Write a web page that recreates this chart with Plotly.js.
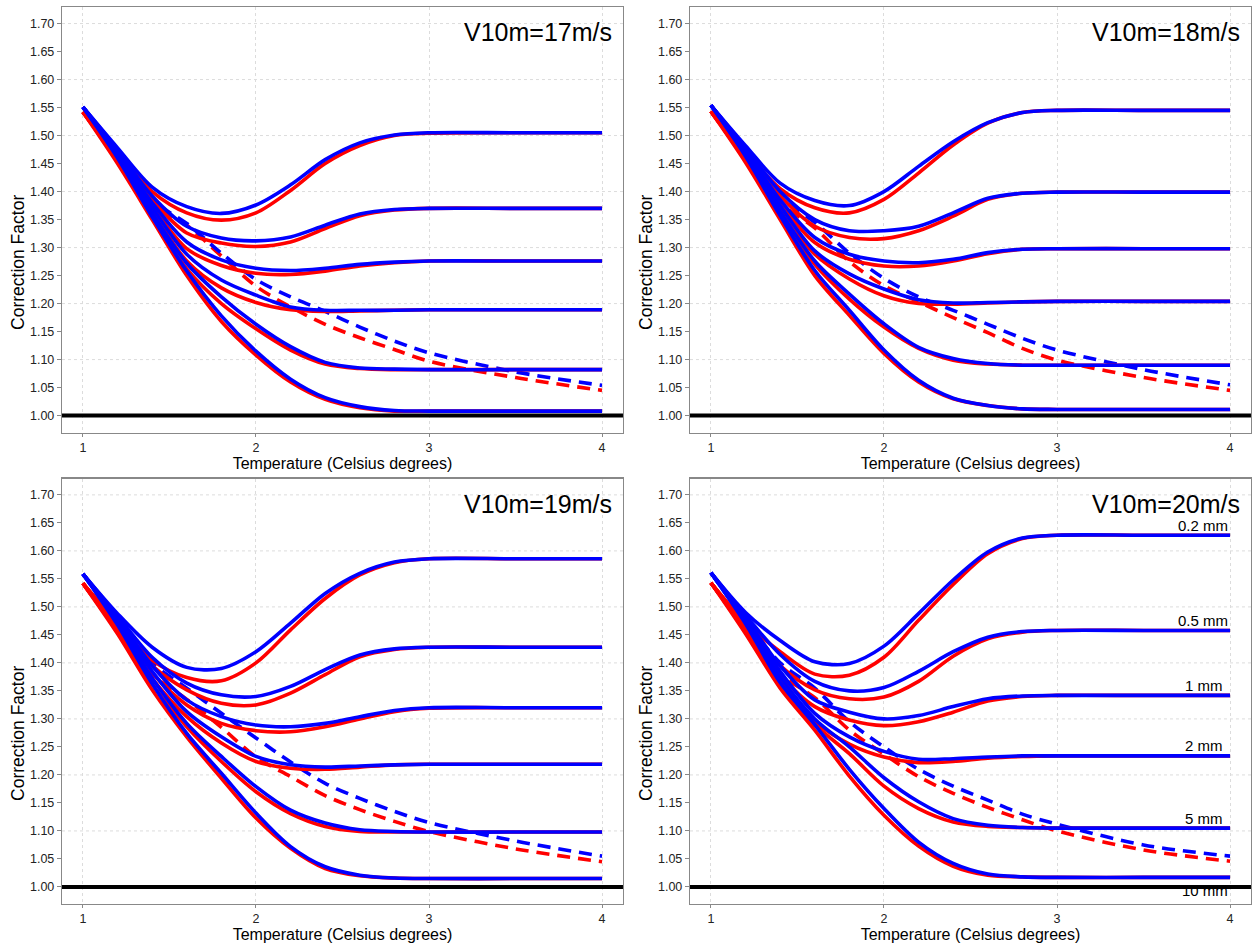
<!DOCTYPE html>
<html>
<head>
<meta charset="utf-8">
<script src="https://cdn.plot.ly/plotly-3.0.1.min.js"></script>
<style>
  html, body { margin: 0; padding: 0; background: #ffffff; }
  #chart { width: 1255px; height: 948px; }
</style>
</head>
<body>
<div id="chart"></div>
<script>
// ---------------- DATA ----------------
const temps = [1.0, 1.2, 1.4, 1.6, 1.8, 2.0, 2.2, 2.4, 2.6, 2.8, 3.0, 3.5, 4.0];
const speedTitles = ["V10m=17m/s", "V10m=18m/s", "V10m=19m/s", "V10m=20m/s"];
const sizeLabels = ["0.2 mm", "0.5 mm", "1 mm", "2 mm", "5 mm", "10 mm"];
const yTickVals = [1.00, 1.05, 1.10, 1.15, 1.20, 1.25, 1.30, 1.35, 1.40, 1.45, 1.50, 1.55, 1.60, 1.65, 1.70];
const xTickVals = [1, 2, 3, 4];
const baselineValue = 1.0;
const xTitle = "Temperature (Celsius degrees)";
const yTitle = "Correction Factor";

// V10m = 17 m/s
const v17Blue02 = [1.551,1.478,1.408,1.373,1.361,1.376,1.412,1.457,1.487,1.501,1.505,1.505,1.505];
const v17Blue05 = [1.551,1.474,1.392,1.338,1.317,1.312,1.319,1.340,1.360,1.368,1.370,1.370,1.370];
const v17Blue1  = [1.551,1.470,1.380,1.310,1.278,1.263,1.259,1.263,1.270,1.274,1.276,1.276,1.276];
const v17Blue2  = [1.551,1.467,1.372,1.288,1.242,1.215,1.194,1.188,1.188,1.188,1.189,1.189,1.189];
const v17Blue5  = [1.551,1.463,1.362,1.272,1.212,1.163,1.123,1.095,1.085,1.083,1.082,1.082,1.082];
const v17Blue10 = [1.551,1.460,1.355,1.258,1.178,1.115,1.065,1.032,1.016,1.009,1.008,1.008,1.008];
const v17Red02  = [1.542,1.470,1.400,1.362,1.349,1.362,1.402,1.450,1.482,1.500,1.504,1.505,1.505];
const v17Red05  = [1.542,1.466,1.385,1.326,1.308,1.302,1.310,1.334,1.357,1.367,1.370,1.370,1.370];
const v17Red1   = [1.542,1.462,1.374,1.298,1.268,1.254,1.252,1.258,1.267,1.273,1.276,1.276,1.276];
const v17Red2   = [1.542,1.458,1.365,1.276,1.228,1.202,1.189,1.186,1.187,1.188,1.189,1.189,1.189];
const v17Red5   = [1.542,1.454,1.356,1.262,1.200,1.155,1.117,1.092,1.084,1.082,1.082,1.082,1.082];
const v17Red10  = [1.542,1.450,1.350,1.250,1.168,1.108,1.060,1.029,1.014,1.008,1.008,1.008,1.008];
const v17BlueDash = [1.551,1.466,1.385,1.343,1.290,1.243,1.212,1.186,1.158,1.133,1.112,1.078,1.054];
const v17RedDash  = [1.542,1.458,1.378,1.340,1.285,1.231,1.194,1.163,1.139,1.118,1.097,1.068,1.045];

// V10m = 18 m/s
const v18Blue02 = [1.554,1.482,1.415,1.384,1.375,1.400,1.445,1.489,1.523,1.541,1.545,1.545,1.545];
const v18Blue05 = [1.554,1.478,1.400,1.350,1.330,1.330,1.338,1.362,1.388,1.397,1.399,1.399,1.399];
const v18Blue1  = [1.554,1.474,1.385,1.318,1.288,1.276,1.273,1.279,1.291,1.297,1.298,1.298,1.298];
const v18Blue2  = [1.554,1.470,1.375,1.294,1.253,1.226,1.207,1.201,1.202,1.203,1.204,1.204,1.204];
const v18Blue5  = [1.554,1.466,1.365,1.276,1.217,1.164,1.122,1.102,1.093,1.090,1.090,1.090,1.090];
const v18Blue10 = [1.554,1.463,1.357,1.259,1.188,1.117,1.063,1.031,1.018,1.012,1.011,1.011,1.011];
const v18Red02  = [1.543,1.472,1.405,1.371,1.362,1.386,1.433,1.483,1.522,1.541,1.545,1.545,1.545];
const v18Red05  = [1.543,1.468,1.392,1.338,1.318,1.316,1.330,1.356,1.386,1.397,1.399,1.399,1.399];
const v18Red1   = [1.543,1.464,1.378,1.309,1.279,1.267,1.267,1.276,1.289,1.297,1.298,1.298,1.298];
const v18Red2   = [1.543,1.460,1.368,1.288,1.244,1.214,1.200,1.199,1.201,1.203,1.204,1.204,1.204];
const v18Red5   = [1.543,1.456,1.358,1.270,1.208,1.158,1.120,1.099,1.092,1.090,1.090,1.090,1.090];
const v18Red10  = [1.543,1.452,1.350,1.250,1.179,1.111,1.060,1.030,1.018,1.012,1.011,1.011,1.011];
const v18BlueDash = [1.554,1.469,1.390,1.345,1.290,1.245,1.212,1.188,1.163,1.138,1.117,1.082,1.055];
const v18RedDash  = [1.543,1.458,1.380,1.335,1.275,1.232,1.203,1.175,1.148,1.120,1.099,1.068,1.045];

// V10m = 19 m/s
const v19Blue02 = [1.559,1.488,1.428,1.392,1.390,1.420,1.471,1.524,1.560,1.580,1.586,1.586,1.586];
const v19Blue05 = [1.559,1.484,1.410,1.364,1.343,1.340,1.358,1.388,1.414,1.425,1.428,1.428,1.428];
const v19Blue1  = [1.559,1.480,1.395,1.334,1.304,1.289,1.286,1.292,1.304,1.315,1.320,1.320,1.320];
const v19Blue2  = [1.559,1.476,1.385,1.313,1.268,1.233,1.218,1.214,1.216,1.218,1.219,1.219,1.219];
const v19Blue5  = [1.559,1.472,1.373,1.292,1.233,1.179,1.137,1.114,1.102,1.099,1.098,1.098,1.098];
const v19Blue10 = [1.559,1.468,1.363,1.274,1.203,1.132,1.072,1.036,1.021,1.016,1.015,1.015,1.015];
const v19Red02  = [1.542,1.472,1.405,1.374,1.368,1.400,1.459,1.515,1.557,1.579,1.586,1.586,1.586];
const v19Red05  = [1.542,1.468,1.395,1.352,1.328,1.325,1.346,1.379,1.411,1.424,1.428,1.428,1.428];
const v19Red1   = [1.542,1.464,1.382,1.325,1.292,1.279,1.277,1.286,1.300,1.313,1.319,1.320,1.320];
const v19Red2   = [1.542,1.460,1.372,1.304,1.257,1.224,1.212,1.210,1.214,1.218,1.219,1.219,1.219];
const v19Red5   = [1.542,1.456,1.362,1.286,1.224,1.170,1.131,1.108,1.099,1.098,1.098,1.098,1.098];
const v19Red10  = [1.542,1.452,1.352,1.268,1.194,1.123,1.069,1.033,1.020,1.016,1.015,1.015,1.015];
const v19BlueDash = [1.559,1.474,1.400,1.355,1.310,1.266,1.223,1.185,1.158,1.135,1.115,1.082,1.055];
const v19RedDash  = [1.542,1.458,1.380,1.335,1.285,1.232,1.197,1.163,1.138,1.117,1.099,1.068,1.045];

// V10m = 20 m/s
const v20Blue02 = [1.561,1.490,1.440,1.402,1.399,1.430,1.488,1.548,1.598,1.623,1.628,1.628,1.628];
const v20Blue05 = [1.561,1.485,1.415,1.367,1.350,1.356,1.385,1.420,1.446,1.456,1.458,1.458,1.458];
const v20Blue1  = [1.561,1.480,1.395,1.334,1.312,1.300,1.306,1.322,1.336,1.341,1.342,1.342,1.342];
const v20Blue2  = [1.561,1.477,1.385,1.310,1.268,1.242,1.228,1.229,1.232,1.234,1.234,1.234,1.234];
const v20Blue5  = [1.561,1.473,1.375,1.300,1.250,1.195,1.152,1.122,1.110,1.106,1.105,1.105,1.105];
const v20Blue10 = [1.561,1.470,1.365,1.290,1.210,1.140,1.080,1.042,1.023,1.018,1.017,1.017,1.017];
const v20Red02  = [1.543,1.472,1.420,1.380,1.378,1.410,1.476,1.540,1.595,1.622,1.628,1.628,1.628];
const v20Red05  = [1.543,1.468,1.395,1.352,1.336,1.339,1.367,1.412,1.443,1.455,1.458,1.458,1.458];
const v20Red1   = [1.543,1.463,1.378,1.322,1.298,1.288,1.295,1.312,1.332,1.340,1.342,1.342,1.342];
const v20Red2   = [1.543,1.460,1.370,1.296,1.255,1.232,1.222,1.224,1.230,1.233,1.234,1.234,1.234];
const v20Red5   = [1.543,1.457,1.362,1.290,1.238,1.180,1.140,1.116,1.108,1.106,1.105,1.105,1.105];
const v20Red10  = [1.543,1.452,1.355,1.280,1.198,1.128,1.073,1.037,1.021,1.018,1.017,1.017,1.017];
const v20BlueDash = [1.561,1.476,1.400,1.355,1.295,1.250,1.210,1.180,1.155,1.130,1.112,1.075,1.055];
const v20RedDash  = [1.543,1.458,1.380,1.338,1.280,1.237,1.197,1.167,1.142,1.120,1.100,1.066,1.046];

// ---------------- BUILD ----------------
const panels = [
  { title: speedTitles[0], blue: [v17Blue02,v17Blue05,v17Blue1,v17Blue2,v17Blue5,v17Blue10],
    red: [v17Red02,v17Red05,v17Red1,v17Red2,v17Red5,v17Red10], blueDash: v17BlueDash, redDash: v17RedDash, labels: false },
  { title: speedTitles[1], blue: [v18Blue02,v18Blue05,v18Blue1,v18Blue2,v18Blue5,v18Blue10],
    red: [v18Red02,v18Red05,v18Red1,v18Red2,v18Red5,v18Red10], blueDash: v18BlueDash, redDash: v18RedDash, labels: false },
  { title: speedTitles[2], blue: [v19Blue02,v19Blue05,v19Blue1,v19Blue2,v19Blue5,v19Blue10],
    red: [v19Red02,v19Red05,v19Red1,v19Red2,v19Red5,v19Red10], blueDash: v19BlueDash, redDash: v19RedDash, labels: false },
  { title: speedTitles[3], blue: [v20Blue02,v20Blue05,v20Blue1,v20Blue2,v20Blue5,v20Blue10],
    red: [v20Red02,v20Red05,v20Red1,v20Red2,v20Red5,v20Red10], blueDash: v20BlueDash, redDash: v20RedDash, labels: true }
];

const FONT = "Liberation Sans, Arial, Helvetica, sans-serif";
const BLUE = "#0000ff", RED = "#ff0000";
const LW = 3.6;
const domainsX = [[0.0494, 0.4964], [0.5498, 0.9968], [0.0494, 0.4964], [0.5498, 0.9968]];
const domainsY = [[0.5433, 0.9923], [0.5433, 0.9923], [0.0461, 0.4951], [0.0461, 0.4951]];
const yTitlePos = [[0.0143, 0.7236], [0.5147, 0.7236], [0.0143, 0.2268], [0.5147, 0.2268]];
const xRange = [0.879, 4.121];
const yRange = [0.969, 1.729];
const yGridVals = yTickVals.filter((v, i) => i % 2 === 0);

const traces = [];
const shapes = [];
const annotations = [];
const layout = {
  width: 1255, height: 948,
  margin: { l: 0, r: 0, t: 0, b: 0 },
  paper_bgcolor: "#ffffff", plot_bgcolor: "#ffffff",
  showlegend: false,
  font: { family: FONT, color: "#000000", size: 13 }
};

panels.forEach((p, i) => {
  const n = i + 1;
  const xa = n === 1 ? "x" : "x" + n;
  const ya = n === 1 ? "y" : "y" + n;
  const mk = (y, color, dash) => ({
    type: "scatter", mode: "lines", x: temps, y: y, xaxis: xa, yaxis: ya,
    line: { color: color, width: LW, dash: dash, shape: "spline", smoothing: 0.9 },
    hoverinfo: "skip"
  });
  traces.push(mk(p.redDash, RED, "13px,8px"));
  traces.push(mk(p.blueDash, BLUE, "13px,8px"));
  p.red.forEach(arr => traces.push(mk(arr, RED, "solid")));
  p.blue.forEach(arr => traces.push(mk(arr, BLUE, "solid")));

  layout["xaxis" + (n === 1 ? "" : n)] = {
    domain: domainsX[i], anchor: ya, range: xRange,
    tickmode: "array", tickvals: xTickVals, ticktext: xTickVals.map(String),
    ticks: "outside", ticklen: 3, tickcolor: "#888888",
    tickfont: { family: FONT, size: 12.5, color: "#222222" },
    showgrid: true, gridcolor: "#dcdcdc", griddash: "dot", gridwidth: 1,
    zeroline: false, showline: true, mirror: true, linecolor: "#888888", linewidth: 1.2,
    title: { text: xTitle, font: { family: FONT, size: 16, color: "#000000" }, standoff: 3 },
    automargin: false, fixedrange: true
  };
  layout["yaxis" + (n === 1 ? "" : n)] = {
    domain: domainsY[i], anchor: xa, range: yRange,
    tickmode: "array", tickvals: yTickVals, ticktext: yTickVals.map(v => v.toFixed(2)),
    ticks: "outside", ticklen: 4, tickcolor: "#888888",
    tickfont: { family: FONT, size: 12.5, color: "#222222" },
    showgrid: false, zeroline: false, showline: true, mirror: true, linecolor: "#888888", linewidth: 1.2,
    automargin: false, fixedrange: true
  };

  // y axis title
  annotations.push({
    xref: "paper", yref: "paper", x: yTitlePos[i][0], y: yTitlePos[i][1],
    xanchor: "center", yanchor: "middle", textangle: -90, showarrow: false,
    text: yTitle, font: { family: FONT, size: 17.5, color: "#000000" }
  });

  // horizontal grid lines every 0.1
  yGridVals.forEach(v => shapes.push({
    type: "line", layer: "below", xref: xa + " domain", x0: 0, x1: 1, yref: ya, y0: v, y1: v,
    line: { color: "#dcdcdc", width: 1, dash: "dot" }
  }));
  // reference line at 1.0
  shapes.push({
    type: "line", layer: "above", xref: xa + " domain", x0: 0, x1: 1, yref: ya, y0: baselineValue, y1: baselineValue,
    line: { color: "#000000", width: 4 }
  });

  annotations.push({
    xref: xa + " domain", yref: ya + " domain", x: 1, y: 1, xanchor: "right", yanchor: "middle",
    xshift: -9, yshift: -25, showarrow: false, text: p.title,
    font: { family: FONT, size: 25, color: "#000000" }
  });

  if (p.labels) {
    sizeLabels.forEach((lab, k) => {
      const yv = p.blue[k][p.blue[k].length - 1];
      const isLast = k === sizeLabels.length - 1;
      const shortLab = (k >= 2 && k <= 4);
      annotations.push({
        xref: xa, yref: ya, x: temps[temps.length - 1], y: yv,
        xanchor: "right", yanchor: "middle", showarrow: false,
        xshift: shortLab ? -5 : 0, yshift: isLast ? -13 : 10,
        text: lab, font: { family: FONT, size: 15, color: "#000000" }
      });
    });
  }
});

layout.shapes = shapes;
layout.annotations = annotations;

Plotly.newPlot("chart", traces, layout, { staticPlot: true, displayModeBar: false });
</script>
</body>
</html>
